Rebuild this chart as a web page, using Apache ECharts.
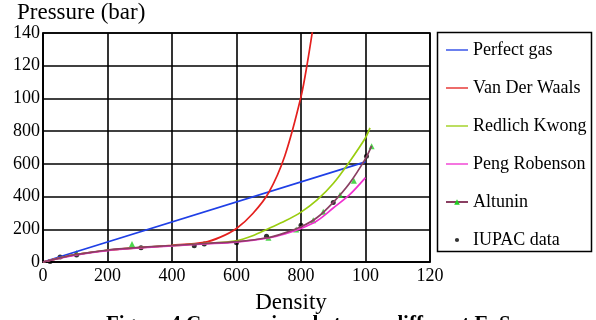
<!DOCTYPE html>
<html>
<head>
<meta charset="utf-8">
<script src="https://cdn.jsdelivr.net/npm/echarts@6/dist/echarts.min.js"></script>
<style>
html,body{margin:0;padding:0;background:#fff;}
#chart{width:596px;height:320px;}
</style>
</head>
<body>
<div id="chart"></div>
<script>
// Tick labels as printed in the source figure (truncated values)
var xTickLabels = ['0', '200', '400', '600', '800', '100', '120'];
var yTickLabels = ['0', '200', '400', '600', '800', '100', '120', '140'];

// Perfect gas
var perfectX = [0, 1000];
var perfectY = [0, 612];
// Van Der Waals
var vdwX = [0, 50, 100, 200, 300, 400, 500, 550, 600, 650, 700, 750, 800, 820, 840];
var vdwY = [0, 24, 45, 72, 88, 102, 120, 152, 205, 295, 425, 650, 1010, 1220, 1470];
// Redlich Kwong
var rkX = [0, 50, 100, 200, 300, 400, 500, 600, 650, 700, 750, 800, 850, 900, 950, 1000, 1014];
var rkY = [0, 24, 45, 72, 88, 100, 112, 130, 160, 205, 250, 305, 380, 480, 612, 760, 820];
// Peng Robenson
var prX = [0, 50, 100, 200, 300, 400, 500, 600, 700, 750, 800, 850, 900, 950, 1000];
var prY = [0, 22, 42, 70, 86, 98, 110, 122, 148, 172, 205, 252, 330, 410, 516];
// Altunin (curve)
var altX = [0, 50, 100, 200, 300, 400, 500, 600, 700, 750, 800, 850, 900, 950, 1000, 1019];
var altY = [0, 24, 45, 73, 89, 101, 113, 125, 150, 178, 215, 272, 365, 480, 632, 710];
// Altunin (marker points)
var altPtX = [104, 276, 699, 785, 838, 869, 921, 964, 1019];
var altPtY = [55, 110, 148, 199, 256, 307, 409, 496, 707];
// IUPAC data
var iupacX = [22, 53, 104, 304, 469, 500, 600, 693, 800, 900, 1003];
var iupacY = [3, 30, 43, 87, 99, 110, 118, 158, 225, 364, 646];

function pairs(xs, ys) { return xs.map(function (x, i) { return [x, ys[i]]; }); }

var FONT = 'Liberation Serif';
var lineIcon = 'path://M0,0L100,0L100,6L0,6Z';
var dotIcon = 'path://M0,0M10,10M5,2A3,3 0 1 1 5,8A3,3 0 1 1 5,2Z';

var chart = echarts.init(document.getElementById('chart'), null, {renderer: 'canvas'});
chart.setOption({
  animation: false,
  backgroundColor: '#fff',
  grid: {left: 43, top: 33, width: 387, height: 229, show: true, borderColor: '#000', borderWidth: 1.6},
  xAxis: {
    type: 'value', min: 0, max: 1200, interval: 200,
    axisLine: {lineStyle: {color: '#000', width: 1.6}},
    axisTick: {show: false},
    splitLine: {show: true, lineStyle: {color: '#000', width: 1.6}},
    axisLabel: {color: '#000', fontFamily: FONT, fontSize: 18, margin: 5,
      formatter: function (v) { return xTickLabels[Math.round(v / 200)]; }}
  },
  yAxis: {
    type: 'value', min: 0, max: 1400, interval: 200,
    axisLine: {show: true, lineStyle: {color: '#000', width: 1.6}},
    axisTick: {show: false},
    splitLine: {show: true, lineStyle: {color: '#000', width: 1.6}},
    axisLabel: {color: '#000', fontFamily: FONT, fontSize: 18, margin: 3,
      formatter: function (v) { return yTickLabels[Math.round(v / 200)]; }}
  },
  legend: {
    orient: 'vertical', left: 440, top: 36, itemWidth: 22, itemHeight: 7, itemGap: 20,
    textStyle: {color: '#000', fontFamily: FONT, fontSize: 18},
    data: [
      {name: 'Perfect gas', icon: lineIcon},
      {name: 'Van Der Waals', icon: lineIcon},
      {name: 'Redlich Kwong', icon: lineIcon},
      {name: 'Peng Robenson', icon: lineIcon},
      {name: 'Altunin'},
      {name: 'IUPAC data', icon: dotIcon}
    ]
  },
  graphic: [
    {type: 'rect', shape: {x: 437.5, y: 32.5, width: 154, height: 219}, style: {fill: 'none', stroke: '#000', lineWidth: 1.5}},
    {type: 'text', x: 17, y: 1, style: {text: 'Pressure (bar)', font: '23px "Liberation Serif"', fill: '#000'}},
    {type: 'text', x: 291, y: 291, style: {text: 'Density', font: '23px "Liberation Serif"', fill: '#000', textAlign: 'center'}},
    {type: 'text', x: 106, y: 314, style: {text: 'Figure 4 Comparaison between different EoS', font: 'bold 21px "Liberation Serif"', fill: '#000'}}
  ],
  series: [
    {name: 'Perfect gas', type: 'line', data: pairs(perfectX, perfectY), symbol: 'none', color: '#1f3fe6', lineStyle: {width: 1.7}},
    {name: 'Van Der Waals', type: 'line', data: pairs(vdwX, vdwY), symbol: 'none', smooth: 0.3, color: '#e4201e', lineStyle: {width: 1.7}},
    {name: 'Redlich Kwong', type: 'line', data: pairs(rkX, rkY), symbol: 'none', smooth: 0.3, color: '#9acd10', lineStyle: {width: 1.7}},
    {name: 'Peng Robenson', type: 'line', data: pairs(prX, prY), symbol: 'none', smooth: 0.3, color: '#f030d0', lineStyle: {width: 1.7}},
    {name: 'Altunin', type: 'line', data: pairs(altX, altY), symbol: 'triangle', showSymbol: false, smooth: 0.3,
      itemStyle: {color: '#22cc22'}, lineStyle: {width: 1.7, color: '#8a3f62'}},
    {name: 'Altunin', type: 'scatter', data: pairs(altPtX, altPtY), symbol: 'triangle', symbolSize: 6, itemStyle: {color: '#22cc22'}},
    {name: 'IUPAC data', type: 'scatter', data: pairs(iupacX, iupacY), symbol: 'circle', symbolSize: 5, itemStyle: {color: '#000'}}
  ]
});
</script>
</body>
</html>
